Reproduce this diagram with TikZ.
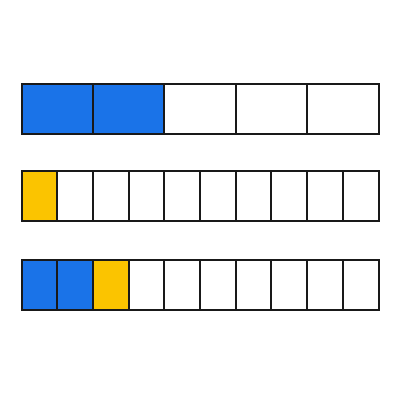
\documentclass[tikz,border=0pt]{standalone}
\definecolor{bblue}{HTML}{1A73E8}
\definecolor{byellow}{HTML}{FBC400}
\begin{document}
\begin{tikzpicture}[x=1pt,y=-1pt,
  cell/.style={draw=black!90, line width=2pt, fill=white},
  bluecell/.style={cell, fill=bblue},
  yellowcell/.style={cell, fill=byellow}]
\useasboundingbox[fill=white] (0,0) rectangle (400,400);
% bar 1: 5 cells
\foreach \i in {0,...,4}{
  \pgfmathsetmacro{\xa}{21.5+71.4*\i}
  \pgfmathsetmacro{\xb}{21.5+71.4*(\i+1)}
  \ifnum\i<2
    \path[bluecell] (\xa,83.5) rectangle (\xb,133.5);
  \else
    \path[cell] (\xa,83.5) rectangle (\xb,133.5);
  \fi
}
% bar 2: 10 cells
\foreach \i in {0,...,9}{
  \pgfmathsetmacro{\xa}{21.5+35.7*\i}
  \pgfmathsetmacro{\xb}{21.5+35.7*(\i+1)}
  \ifnum\i=0
    \path[yellowcell] (\xa,170.5) rectangle (\xb,220.5);
  \else
    \path[cell] (\xa,170.5) rectangle (\xb,220.5);
  \fi
}
% bar 3: 10 cells
\foreach \i in {0,...,9}{
  \pgfmathsetmacro{\xa}{21.5+35.7*\i}
  \pgfmathsetmacro{\xb}{21.5+35.7*(\i+1)}
  \ifnum\i<2
    \path[bluecell] (\xa,259.5) rectangle (\xb,309.5);
  \else\ifnum\i=2
    \path[yellowcell] (\xa,259.5) rectangle (\xb,309.5);
  \else
    \path[cell] (\xa,259.5) rectangle (\xb,309.5);
  \fi\fi
}
\end{tikzpicture}
\end{document}
